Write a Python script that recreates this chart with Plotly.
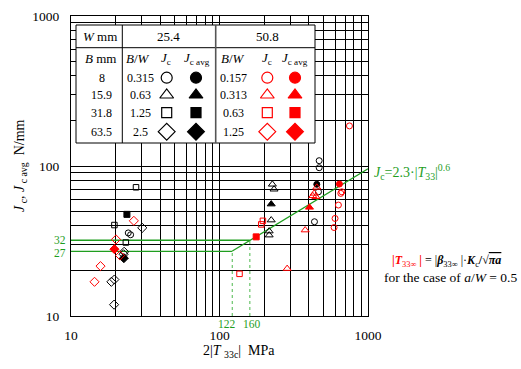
import plotly.graph_objects as go

# ---------------- data (x: 2|T33c| MPa, y: J N/mm) ----------------
# W = 25.4 mm (black)
b_circ_x = [24.3, 25.2, 436, 464, 469, 469]
b_circ_y = [35.8, 34.8, 42.5, 67.3, 108.5, 97.4]
b_circ_avg_x = [452]
b_circ_avg_y = [75.5]
b_tri_x = [227, 233, 223, 216, 216]
b_tri_y = [75.5, 70.0, 43.6, 36.8, 34.6]
b_tri_avg_x = [223]
b_tri_avg_y = [55.7]
b_sq_x = [27.4, 19.6, 23.4]
b_sq_y = [72.1, 40.4, 30.9]
b_sq_avg_x = [23.8]
b_sq_avg_y = [47.6]
b_dia_x = [30.2, 22.8, 22.6, 18.7, 19.6, 19.5]
b_dia_y = [38.7, 26.8, 25.8, 16.9, 17.5, 11.9]
b_dia_avg_x = [22.7]
b_dia_avg_y = [24.3]
# W = 50.8 mm (red)
r_circ_x = [666, 656, 632, 600, 591, 750]
r_circ_y = [67.3, 65.7, 54.9, 44.7, 38.9, 185]
r_circ_avg_x = [642]
r_circ_avg_y = [75.8]
r_tri_x = [452, 434, 425, 446, 377.5, 285.5]
r_tri_y = [72.1, 65.7, 63.3, 62.4, 37.4, 20.7]
r_tri_avg_x = [403.5]
r_tri_avg_y = [53.0]
r_sq_x = [196, 191, 136.4]
r_sq_y = [43.1, 40.8, 19.1]
r_sq_avg_x = [176.6]
r_sq_avg_y = [33.7]
r_dia_x = [26.5, 20.1, 21.4, 15.8, 14.4]
r_dia_y = [43.1, 32.4, 25.3, 21.5, 16.9]
r_dia_avg_x = [19.6]
r_dia_avg_y = [27.9]

# fit and thresholds
fit_coef = 2.3
fit_exp = 0.6
thr_x = [122, 160]
thr_y = [27, 32]

# legend table content
W_vals = ["25.4", "50.8"]
B_vals = ["8", "15.9", "31.8", "63.5"]
BW_254 = ["0.315", "0.63", "1.25", "2.5"]
BW_508 = ["0.157", "0.313", "0.63", "1.25"]
shapes_open = ["circle-open", "triangle-up-open", "square-open", "diamond-open"]
shapes_fill = ["circle", "triangle-up", "square", "diamond"]

axis_ticks = [10, 100, 1000]

FONT = "Liberation Serif"
GREEN = "#1f9e1f"
LGREEN = "#77c977"
RED = "#ff0000"

# ---------------- geometry helpers (pixel -> coords) ----------------
ML, MR, MT, MB = 71, 153, 16, 53
FW, FH = 521, 369
PW = FW - ML - MR
PH = FH - MT - MB


def px(x):
    return (x - ML) / PW


def py(y):
    return (FH - MB - y) / PH


def dx(x):
    return 10 ** (1 + 2 * px(x))


def dy(y):
    return 10 ** (1 + 2 * py(y))


fig = go.Figure()

series = [
    (b_circ_x, b_circ_y, "circle-open", "black", 6),
    (b_tri_x, b_tri_y, "triangle-up-open", "black", 7),
    (b_sq_x, b_sq_y, "square-open", "black", 5.5),
    (b_dia_x, b_dia_y, "diamond-open", "black", 7),
    (b_circ_avg_x, b_circ_avg_y, "circle", "black", 6),
    (b_tri_avg_x, b_tri_avg_y, "triangle-up", "black", 7),
    (b_sq_avg_x, b_sq_avg_y, "square", "black", 6),
    (b_dia_avg_x, b_dia_avg_y, "diamond", "black", 7),
    (r_circ_x, r_circ_y, "circle-open", RED, 6),
    (r_tri_x, r_tri_y, "triangle-up-open", RED, 7),
    (r_sq_x, r_sq_y, "square-open", RED, 5.5),
    (r_dia_x, r_dia_y, "diamond-open", RED, 7),
    (r_circ_avg_x, r_circ_avg_y, "circle", RED, 6),
    (r_tri_avg_x, r_tri_avg_y, "triangle-up", RED, 7),
    (r_sq_avg_x, r_sq_avg_y, "square", RED, 6),
    (r_dia_avg_x, r_dia_avg_y, "diamond", RED, 7),
]

# threshold / fit lines
for tx, ty in zip(thr_x, thr_y):
    fig.add_trace(go.Scatter(x=[axis_ticks[0], tx], y=[ty, ty], mode="lines",
                             line=dict(color=GREEN, width=1.3), showlegend=False, hoverinfo="skip"))
    fig.add_trace(go.Scatter(x=[tx, tx], y=[axis_ticks[0], ty], mode="lines",
                             line=dict(color=LGREEN, width=1.3, dash="dot"), showlegend=False, hoverinfo="skip"))
fit_x = [thr_x[0], axis_ticks[-1]]
fit_y = [fit_coef * (v / 2) ** fit_exp for v in fit_x]
fig.add_trace(go.Scatter(x=fit_x, y=fit_y, mode="lines", line=dict(color=GREEN, width=1.3),
                         showlegend=False, hoverinfo="skip"))

for xs, ys, sym, col, sz in series:
    fig.add_trace(go.Scatter(x=xs, y=ys, mode="markers", showlegend=False,
                             marker=dict(symbol=sym, size=sz, color=col, line=dict(color=col, width=1))))

# ---------------- legend table ----------------
tab_l, tab_r, tab_t, tab_b = 76, 315, 25, 143
shapes = [
    dict(type="rect", xref="x", yref="y", x0=dx(tab_l), x1=dx(tab_r), y0=dy(tab_b), y1=dy(tab_t),
         fillcolor="white", line=dict(color="black", width=1), layer="between"),
    dict(type="line", xref="x", yref="y", x0=dx(tab_l), x1=dx(tab_r), y0=dy(47.7), y1=dy(47.7),
         line=dict(color="black", width=1), layer="between"),
    dict(type="line", xref="x", yref="y", x0=dx(122.3), x1=dx(122.3), y0=dy(tab_b), y1=dy(tab_t),
         line=dict(color="black", width=1), layer="between"),
    dict(type="line", xref="x", yref="y", x0=dx(215.7), x1=dx(215.7), y0=dy(tab_b), y1=dy(tab_t),
         line=dict(color="#555555", width=1.6), layer="between"),
]

ann = []


def txt(x, y, s, size=12, color="black", xanchor="center", **kw):
    ann.append(dict(x=px(x), y=py(y), xref="paper", yref="paper", text=s, showarrow=False,
                    xanchor=xanchor, yanchor="middle", font=dict(family=FONT, size=size, color=color), **kw))


txt(100, 37, "<i>W</i> mm", 13)
txt(168, 37, W_vals[0], 13)
txt(267, 37, W_vals[1], 13)
txt(100, 59, "<i>B</i> mm", 13)
for cx, lab in [(137.7, "<i>B</i>/<i>W</i>"), (166, "<i>J</i><sub>c</sub>"),
                (197, "<i>J</i><sub>c avg</sub>"), (233, "<i>B</i>/<i>W</i>"),
                (267.3, "<i>J</i><sub>c</sub>"), (294.5, "<i>J</i><sub>c avg</sub>")]:
    txt(cx, 59, lab, 13)
row_y = [77.7, 95, 112.7, 131.7]
for i, ry in enumerate(row_y):
    txt(101.7, ry, B_vals[i], 12)
    txt(140, ry, BW_254[i], 12)
    txt(233, ry, BW_508[i], 12)

leg_sizes = [11, 12, 10, 13]
for i, ry in enumerate(row_y):
    for cx, sym, col in [(166.7, shapes_open[i], "black"), (196, shapes_fill[i], "black"),
                         (267.3, shapes_open[i], RED), (295, shapes_fill[i], RED)]:
        fig.add_trace(go.Scatter(x=[dx(cx)], y=[dy(ry)], mode="markers", showlegend=False,
                                 cliponaxis=False, hoverinfo="skip",
                                 marker=dict(symbol=sym, size=leg_sizes[i], color=col,
                                             line=dict(color=col, width=1.2))))

# green labels
txt(68, 240, str(thr_y[1]), 11.5, GREEN, xanchor="right")
txt(68, 252.5, str(thr_y[0]), 11.5, GREEN, xanchor="right")
txt(226.5, 323.5, str(thr_x[0]), 11.5, GREEN)
txt(251.5, 323.5, str(thr_x[1]), 11.5, GREEN)
txt(372, 172, "<i>J</i><sub>c</sub>=2.3·|<i>T</i><sub>33</sub>|<sup>0.6</sup>", 14, GREEN, xanchor="left")

# formula text
txt(446, 260.5,
    "<span style='color:red'><b>|<i>T</i></b><sub>33∞</sub><b> |</b></span> = |<b><i>β</i></b><sub>33∞</sub> |·<b><i>K</i></b><sub>c</sub><b>/</b>√<span style='text-decoration:overline'><b><i>πa</i></b></span>",
    12)
txt(450, 277.5, "for the case of <i>a</i>/<i>W</i> = 0.5", 13.5)

# axis titles
txt(239, 351, "2|<i>T</i> <sub>33c</sub>|  MPa", 14)
txt(20, 166, "<i>J</i><sub> c</sub>, <i>J</i><sub> c avg</sub>  N/mm", 14, textangle=-90)

axis_common = dict(
    type="log", range=[1, 3], tickvals=axis_ticks, ticktext=[str(v) for v in axis_ticks],
    showgrid=True, gridcolor="black", gridwidth=1,
    minor=dict(dtick="D1", showgrid=True, gridcolor="black", gridwidth=1, ticks=""),
    showline=True, linecolor="black", linewidth=1.2, mirror=True, ticks="",
    tickfont=dict(family=FONT, size=13.5, color="black"), zeroline=False, automargin=False,
)

fig.update_layout(
    width=FW, height=FH,
    margin=dict(l=ML, r=MR, t=MT, b=MB, autoexpand=False),
    paper_bgcolor="white", plot_bgcolor="white",
    xaxis=dict(**axis_common, ticklabelstandoff=7),
    yaxis=dict(**axis_common, ticklabelstandoff=8),
    shapes=shapes, annotations=ann, showlegend=False,
)

fig.write_html("out.html", config={"displayModeBar": False},
               post_script="document.body.style.margin='0px';")
